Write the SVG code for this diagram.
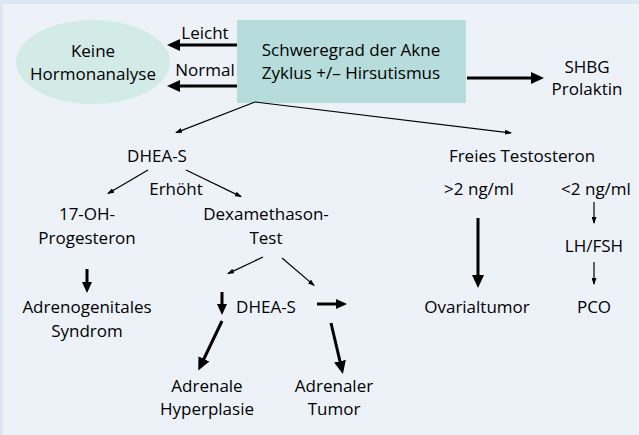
<svg xmlns="http://www.w3.org/2000/svg" width="639" height="435" viewBox="0 0 639 435">
<style>
text{font-family:"Open Sans","Noto Sans","Liberation Sans",sans-serif;font-size:17px;fill:#000;text-anchor:middle}
.thick{stroke:#000;stroke-width:3;fill:none}
.thin{stroke:#000;stroke-width:1.2;fill:none}
</style>
<defs>
<marker id="big" markerUnits="userSpaceOnUse" markerWidth="13" markerHeight="12" refX="9" refY="6" orient="auto"><path d="M0,0 L13,6 L0,12 z" fill="#000"/></marker>
<marker id="med" markerUnits="userSpaceOnUse" markerWidth="11" markerHeight="10" refX="7" refY="5" orient="auto"><path d="M0,0 L11,5 L0,10 z" fill="#000"/></marker>
<marker id="sm" markerUnits="userSpaceOnUse" markerWidth="7" markerHeight="5" refX="6" refY="2.5" orient="auto"><path d="M0,0 L7,2.5 L0,5 z" fill="#000"/></marker>
</defs>
<rect x="0" y="0" width="639" height="435" fill="#dbe7f2"/>
<rect x="3" y="4" width="636" height="431" fill="#edf2f9"/>

<g id="keine">
<ellipse cx="93" cy="62" rx="77" ry="42" fill="#d3ebe7"/>
<text x="93" y="57">Keine</text>
<text x="93" y="80">Hormonanalyse</text>
</g>
<g id="schweregrad">
<rect x="237" y="20" width="229" height="83" fill="#b6dcdb"/>
<text x="351" y="56">Schweregrad der Akne</text>
<text x="351" y="79">Zyklus +/– Hirsutismus</text>
</g>
<g id="shbg"><text x="587" y="73">SHBG</text><text x="587" y="95">Prolaktin</text></g>
<g id="dheas1"><text x="157" y="162">DHEA-S</text></g>
<g id="freies"><text x="522" y="162">Freies Testosteron</text></g>
<g id="ohp"><text x="87" y="220">17-OH-</text><text x="87" y="244">Progesteron</text></g>
<g id="dexa"><text x="266" y="220">Dexamethason-</text><text x="266" y="244">Test</text></g>
<g id="gt2"><text x="479" y="195">&gt;2 ng/ml</text></g>
<g id="lt2"><text x="596" y="195">&lt;2 ng/ml</text></g>
<g id="lhfsh"><text x="594" y="252">LH/FSH</text></g>
<g id="ags"><text x="87" y="313">Adrenogenitales</text><text x="87" y="337">Syndrom</text></g>
<g id="dheas2"><text x="266" y="313">DHEA-S</text></g>
<g id="ovar"><text x="477" y="313">Ovarialtumor</text></g>
<g id="pco"><text x="594" y="313">PCO</text></g>
<g id="hyper"><text x="207" y="392">Adrenale</text><text x="207" y="415">Hyperplasie</text></g>
<g id="tumor"><text x="334" y="392">Adrenaler</text><text x="334" y="415">Tumor</text></g>

<g id="connectors">
<line class="thick" x1="237" y1="45" x2="171" y2="45" marker-end="url(#big)"/>
<line class="thick" x1="237" y1="86" x2="171" y2="86" marker-end="url(#big)"/>
<line class="thick" x1="467" y1="78" x2="540" y2="78" marker-end="url(#big)"/>
<line class="thick" x1="478" y1="218" x2="478" y2="284" marker-end="url(#big)"/>
<line class="thick" x1="87" y1="269" x2="87" y2="289" marker-end="url(#med)"/>
<line class="thick" x1="222" y1="292" x2="222" y2="311" marker-end="url(#med)"/>
<line class="thick" x1="317" y1="304" x2="343" y2="304" marker-end="url(#med)"/>
<line class="thick" x1="222" y1="321" x2="200" y2="367" marker-end="url(#big)"/>
<line class="thick" x1="331" y1="323" x2="342" y2="370" marker-end="url(#big)"/>
<line class="thin" x1="255" y1="102" x2="176" y2="132.6" marker-end="url(#sm)"/>
<line class="thin" x1="255" y1="102" x2="511" y2="132.9" marker-end="url(#sm)"/>
<line class="thin" x1="148" y1="170" x2="108" y2="193.5" marker-end="url(#sm)"/>
<line class="thin" x1="186" y1="170" x2="241" y2="196.6" marker-end="url(#sm)"/>
<line class="thin" x1="263" y1="257" x2="228" y2="273.6" marker-end="url(#sm)"/>
<line class="thin" x1="282" y1="258" x2="314" y2="285.4" marker-end="url(#sm)"/>
<line class="thin" x1="594" y1="202" x2="594" y2="223" marker-end="url(#sm)"/>
<line class="thin" x1="594" y1="262" x2="594" y2="284" marker-end="url(#sm)"/>
</g>
<g id="labels">
<text x="205" y="39">Leicht</text>
<text x="205" y="76">Normal</text>
<text x="176" y="195">Erhöht</text>
</g>
</svg>
